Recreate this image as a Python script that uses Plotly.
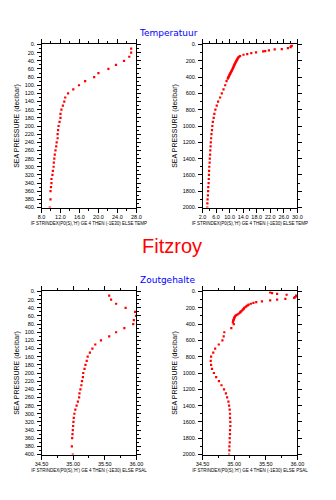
import plotly.graph_objects as go

# ---- Temperature profile, upper 400 dbar ----
pres_t400 = [10, 20, 30, 40, 50, 60, 70, 80, 90, 100, 110, 120, 130, 140, 150, 160,
             170, 180, 190, 200, 210, 220, 230, 240, 250, 260, 270, 280, 290, 300,
             310, 320, 330, 340, 350, 360, 380, 400]
temp_t400 = [26.9, 26.9, 26.5, 25.4, 23.7, 22.1, 20.0, 19.1, 17.2, 15.9, 14.7, 13.6,
             13.0, 12.8, 12.5, 12.2, 12.0, 12.0, 11.8, 11.6, 11.5, 11.4, 11.4, 11.2,
             11.1, 10.95, 10.8, 10.7, 10.6, 10.55, 10.4, 10.3, 10.1, 10.1, 10.0, 9.9,
             9.9, 9.75]

# ---- Temperature profile, full 2000 dbar ----
pres_t2000 = [12, 21, 32, 45, 57, 61, 72, 81, 85, 97, 106, 118, 126, 142,
              150, 160, 170, 180, 190, 200, 210, 220, 230, 240, 250, 260, 270, 280,
              290, 300, 310, 320, 330, 340, 350, 360, 370, 380, 390, 400, 410, 420,
              450, 500, 550, 600, 650, 700, 750, 800, 850, 900, 950, 1000, 1050,
              1100, 1150, 1200, 1250, 1300, 1350, 1400, 1450, 1500, 1550, 1600,
              1650, 1700, 1750, 1800, 1850, 1900, 1950, 2000]
temp_t2000 = [28.4, 28.2, 28.0, 27.2, 25.4, 23.3, 21.6, 20.5, 19.9, 17.8, 16.4, 15.2,
              14.1, 13.1,
              12.75, 12.55, 12.4, 12.3, 12.15, 12.0, 11.9, 11.75, 11.65, 11.5, 11.4,
              11.3, 11.2, 11.1, 11.0, 10.9, 10.75, 10.65, 10.5, 10.4, 10.25, 10.15,
              10.0, 9.9, 9.8, 9.65, 9.55, 9.45,
              9.1, 8.7, 8.2, 7.7, 7.2, 6.6, 6.2, 5.8, 5.5, 5.3, 5.05, 4.9, 4.8,
              4.65, 4.55, 4.45, 4.4, 4.3, 4.25, 4.15, 4.1, 4.0, 3.95, 3.9,
              3.85, 3.8, 3.7, 3.65, 3.6, 3.5, 3.45, 3.4]

# ---- Salinity profile ----
pres_sal = [10, 20, 30, 40, 50, 60, 70, 80, 90, 100, 110, 120, 130, 140, 150, 160,
            170, 180, 190, 200, 210, 220, 230, 240, 250, 260, 270, 280, 290, 300,
            310, 320, 330, 340, 350, 360, 380, 400,
            450, 500, 550, 600, 650, 700, 750, 800, 850, 900, 950, 1000, 1050,
            1100, 1150, 1200, 1250, 1300, 1350, 1400, 1450, 1500, 1550, 1600,
            1650, 1700, 1750, 1800, 1850, 1900, 1950, 2000]
sal = [35.57, 35.60, 35.68, 35.83, 35.98, 35.995, 35.96, 35.95, 35.81, 35.68, 35.57,
       35.44, 35.35, 35.305, 35.265, 35.23, 35.215, 35.195, 35.18, 35.16, 35.155,
       35.14, 35.13, 35.115, 35.10, 35.095, 35.075, 35.055, 35.035, 35.02, 35.01,
       35.005, 35.0, 34.995, 34.99, 34.985, 34.98, 34.995,
       34.955, 34.845, 34.835, 34.815, 34.757, 34.70, 34.67, 34.636, 34.63, 34.636,
       34.65, 34.68, 34.716, 34.76, 34.80, 34.84, 34.87, 34.89, 34.91, 34.92,
       34.93, 34.935, 34.935, 34.94, 34.94, 34.935, 34.935, 34.93, 34.93, 34.925,
       34.925, 34.92]

# ---- Tick labels ----
p400_ticks = list(range(0, 401, 20))
p400_labels = [f"{v}." for v in p400_ticks]
p2000_ticks = list(range(0, 2001, 200))
p2000_labels = [f"{v}." for v in p2000_ticks]
t400_ticks = [8, 12, 16, 20, 24, 28]
t400_labels = ["8.0", "12.0", "16.0", "20.0", "24.0", "28.0"]
t2000_ticks = [2, 6, 10, 14, 18, 22, 26, 30]
t2000_labels = ["2.0", "6.0", "10.0", "14.0", "18.0", "22.0", "26.0", "30.0"]
s_ticks = [34.5, 35.0, 35.5, 36.0]
s_labels = ["34.50", "35.00", "35.50", "36.00"]

TEMP_EXPR = "IF STRINDEX(P0(S),'H') GE 4 THEN (-1E30) ELSE TEMP"
PSAL_EXPR = "IF STRINDEX(P0(S),'H') GE 4 THEN (-1E30) ELSE PSAL"

W, H = 336, 500
FONT = "Liberation Sans"


def px_x(a, b):
    return [a / W, b / W]


def px_y(top, bottom):
    return [1 - bottom / H, 1 - top / H]


fig = go.Figure()

panels = [
    ("x", "y", temp_t400, pres_t400),
    ("x2", "y2", temp_t2000, pres_t2000),
    ("x3", "y3", sal, pres_sal),
    ("x4", "y4", sal, pres_sal),
]
for xa, ya, xv, yv in panels:
    fig.add_trace(go.Scatter(
        x=xv, y=yv, xaxis=xa, yaxis=ya, mode="markers",
        marker=dict(symbol="square", size=2.2, color="#ff0000", line=dict(width=0)),
        showlegend=False, hoverinfo="skip"))

common = dict(showline=True, linecolor="black", linewidth=1, mirror="ticks",
              ticks="outside", ticklen=4, tickwidth=1, tickcolor="black",
              showgrid=False, zeroline=False)


def xaxis(domain, anchor, rng, tv, tt, minor, title):
    return dict(common, domain=domain, anchor=anchor, range=rng,
                tickmode="array", tickvals=tv, ticktext=tt, tickangle=0,
                tickfont=dict(family=FONT, size=5.5, color="black"),
                minor=dict(ticks="outside", ticklen=2, tickcolor="black", dtick=minor,
                           tick0=rng[0], showgrid=False),
                title=dict(text=title, font=dict(family=FONT, size=4.5, color="black"),
                           standoff=2))


def yaxis(domain, anchor, rng, tv, tt, minor):
    return dict(common, domain=domain, anchor=anchor, range=rng,
                tickmode="array", tickvals=tv, ticktext=tt,
                tickfont=dict(family=FONT, size=5.5, color="black"),
                minor=dict(ticks="outside", ticklen=2, tickcolor="black", dtick=minor,
                           tick0=0, showgrid=False),
                title=dict(text="SEA PRESSURE (decibar)",
                           font=dict(family=FONT, size=7, color="black"), standoff=4))


top = px_y(42, 207)
bot = px_y(292, 457)
left = px_x(36, 135)
right = px_x(204, 303)

fig.update_layout(
    width=W, height=H,
    margin=dict(l=0, r=0, t=0, b=0),
    paper_bgcolor="white", plot_bgcolor="white",
    xaxis=xaxis(left, "y", [8, 28], t400_ticks, t400_labels, 2, TEMP_EXPR),
    yaxis=yaxis(top, "x", [400, 0], p400_ticks, p400_labels, 10),
    xaxis2=xaxis(right, "y2", [2, 30], t2000_ticks, t2000_labels, 2, TEMP_EXPR),
    yaxis2=yaxis(top, "x2", [2000, 0], p2000_ticks, p2000_labels, 100),
    xaxis3=xaxis(left, "y3", [34.5, 36.0], s_ticks, s_labels, 0.25, PSAL_EXPR),
    yaxis3=yaxis(bot, "x3", [400, 0], p400_ticks, p400_labels, 10),
    xaxis4=xaxis(right, "y4", [34.5, 36.0], s_ticks, s_labels, 0.25, PSAL_EXPR),
    yaxis4=yaxis(bot, "x4", [2000, 0], p2000_ticks, p2000_labels, 100),
    annotations=[
        dict(text="Temperatuur", x=169 / W, y=1 - 30 / H, xref="paper", yref="paper",
             xanchor="center", yanchor="middle", showarrow=False,
             font=dict(family="DejaVu Sans", size=9, color="#0000ff")),
        dict(text="Fitzroy", x=172 / W, y=1 - 246 / H, xref="paper", yref="paper",
             xanchor="center", yanchor="middle", showarrow=False,
             font=dict(family=FONT, size=20, color="#ff0000")),
        dict(text="Zoutgehalte", x=167 / W, y=1 - 280 / H, xref="paper", yref="paper",
             xanchor="center", yanchor="middle", showarrow=False,
             font=dict(family="DejaVu Sans", size=9, color="#0000ff")),
    ],
)

fig.write_html("out.html")
